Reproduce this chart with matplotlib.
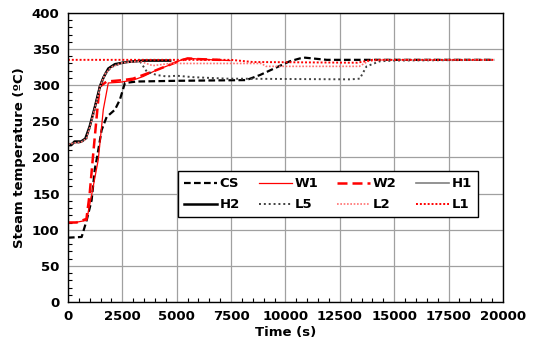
import numpy as np
import matplotlib.pyplot as plt
from matplotlib.ticker import MultipleLocator

# series (time in s, temperature in degC)
cs_t = [0, 630, 860, 1090, 1240, 1320, 1550, 1780, 2160, 2390, 2620, 3160, 5000, 8200, 8830, 10200, 10670, 10900, 11900, 19600]
cs_y = [89, 90, 113, 141, 185, 197, 238, 256, 266, 280, 303, 305, 306, 307, 314, 333, 337, 338, 335, 335]

w1_t = [0, 320, 860, 1100, 1395, 1625, 1855, 2390, 3000, 3465, 4080, 4690, 5300, 5610, 6070, 6680, 7450]
w1_y = [110, 110, 113, 150, 197, 266, 303, 304, 307, 312, 321, 328, 336, 337, 336, 335, 334]

w2_t = [0, 400, 850, 1000, 1165, 1395, 1470, 1780, 2545, 3000, 4000, 5000, 5500, 6000, 7000]
w2_y = [110, 110, 115, 150, 206, 280, 298, 305, 307, 309, 320, 332, 337, 336, 335]

h1_t = [0, 300, 600, 850, 1050, 1300, 1500, 1700, 2000, 2500, 3300, 4700]
h1_y = [218, 220, 221, 227, 248, 278, 302, 316, 326, 331, 334, 334]

h2_t = [0, 150, 300, 600, 800, 1000, 1240, 1470, 1625, 1855, 2160, 2700, 3500, 4700]
h2_y = [217, 217, 222, 222, 226, 243, 270, 298, 310, 323, 329, 332, 334, 334]

l5_t = [0, 300, 600, 850, 1050, 1300, 1500, 1700, 2000, 2500, 3000, 3310, 3620, 4080, 4540, 5000, 5770, 7300, 13000, 13420, 13730, 14340, 15000, 19600]
l5_y = [218, 220, 221, 226, 246, 275, 300, 315, 325, 331, 333, 333, 319, 314, 312, 313, 311, 309, 308, 309, 326, 333, 334, 335]

l2_t = [0, 300, 600, 850, 1050, 1300, 1500, 1700, 2000, 2500, 3300, 3900, 4700, 8900, 9100, 13400, 13800, 14500, 19600]
l2_y = [218, 220, 221, 226, 246, 275, 300, 315, 325, 331, 333, 327, 330, 330, 326, 326, 333, 335, 335]

l1_t = [0, 7500, 8500, 13300, 14000, 19600]
l1_y = [335, 335, 332, 331, 335, 335]

fig = plt.figure(figsize=(5.35, 3.57), dpi=100)
ax = fig.add_axes([0.127, 0.154, 0.813, 0.810])

ax.plot(cs_t, cs_y, color='black', ls=(0, (3, 1.5)), lw=1.6, label='CS')
ax.plot(w1_t, w1_y, color='red', ls='-', lw=0.9, label='W1')
ax.plot(w2_t, w2_y, color='red', ls=(0, (4, 2)), lw=1.8, label='W2')
ax.plot(h1_t, h1_y, color='#808080', ls='-', lw=1.2, label='H1')
ax.plot(h2_t, h2_y, color='black', ls='-', lw=1.8, label='H2')
ax.plot(l5_t, l5_y, color='#404040', ls=(0, (1, 1.5)), lw=1.4, label='L5')
ax.plot(l2_t, l2_y, color='#ff7070', ls=(0, (1, 1)), lw=1.2, label='L2')
ax.plot(l1_t, l1_y, color='red', ls=(0, (1, 1)), lw=1.4, label='L1')

ax.set_xlim(0, 20000)
ax.set_ylim(0, 400)
ax.xaxis.set_major_locator(MultipleLocator(2500))
ax.xaxis.set_minor_locator(MultipleLocator(500))
ax.yaxis.set_major_locator(MultipleLocator(50))
ax.yaxis.set_minor_locator(MultipleLocator(10))
ax.tick_params(which='both', direction='in', length=3, width=0.8)
ax.tick_params(which='major', length=0, labelsize=9.5, pad=6)
ax.grid(True, which='major', color='#a0a0a0', lw=0.9)
ax.set_axisbelow(True)
for s in ax.spines.values():
    s.set_color('black')
    s.set_linewidth(1.0)
for lab in ax.get_xticklabels() + ax.get_yticklabels():
    lab.set_fontweight('bold')

ax.set_xlabel('Time (s)', fontsize=9.5, fontweight='bold', labelpad=2)
ax.set_ylabel('Steam temperature (ºC)', fontsize=9.5, fontweight='bold', labelpad=4)

# legend filled row by row: CS W1 W2 H1 / H2 L5 L2 L1
handles, labels = ax.get_legend_handles_labels()
order = [0, 4, 1, 5, 2, 6, 3, 7]
leg = ax.legend([handles[i] for i in order], [labels[i] for i in order],
                ncol=4, loc='upper left', bbox_to_anchor=(0.253, 0.452), borderaxespad=0,
                prop={'weight': 'bold', 'size': 9.5}, frameon=True, fancybox=False,
                handlelength=2.5, handletextpad=0.2, columnspacing=1.45,
                borderpad=0.45, labelspacing=0.6)
leg.get_frame().set_edgecolor('black')
leg.get_frame().set_linewidth(1.0)
leg.get_frame().set_alpha(1)

fig.savefig('out.png', dpi=100)
